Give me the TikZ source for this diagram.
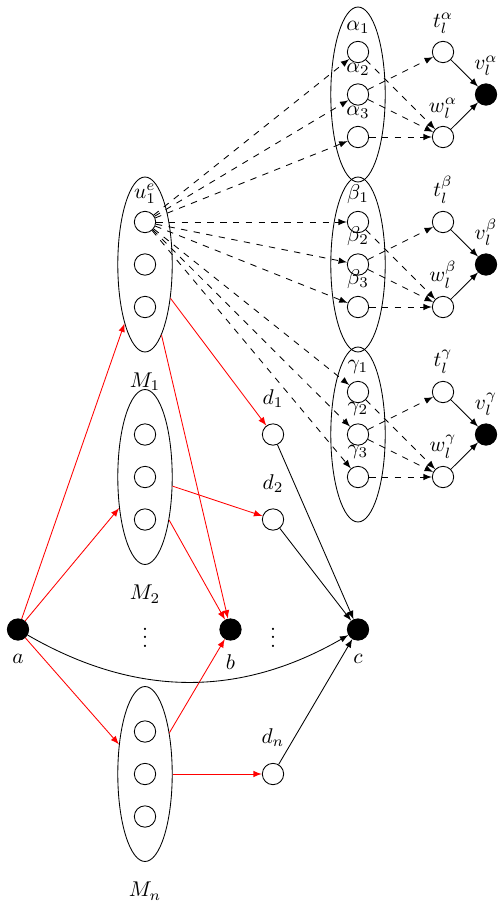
\documentclass[tikz,border=0pt]{standalone}
\usetikzlibrary{shapes.geometric,arrows}
\begin{document}
\begin{tikzpicture}[x=0.4686pt,y=0.4686pt,
  sm/.style={circle,draw,minimum size=10pt,inner sep=0pt},
  fl/.style={circle,draw,fill=black,minimum size=10pt,inner sep=0pt},
  grp/.style={ellipse,draw,minimum width=25.5pt,minimum height=82pt,inner sep=0pt},
  rarr/.style={red,-latex},
  darr/.style={dashed,-latex},
  barr/.style={-latex}]
\useasboundingbox (0,0) rectangle (504,-910);
% alpha group
\node[grp] (GA) at (358,-94.5) {};
\node[sm,label=above:$\alpha_1$] (A1) at (358,-52) {};
\node[sm,label=above:$\alpha_2$] (A2) at (358,-94.5) {};
\node[sm,label=above:$\alpha_3$] (A3) at (358,-137) {};
\node[sm,label=above:$t_l^\alpha$] (tA) at (443,-52) {};
\node[sm,label=above:$w_l^\alpha$] (wA) at (443,-137) {};
\node[fl,label=above:$v_l^\alpha$] (vA) at (486,-94.5) {};
% beta group
\node[grp] (GB) at (358,-264.5) {};
\node[sm,label=above:$\beta_1$] (B1) at (358,-222) {};
\node[sm,label=above:$\beta_2$] (B2) at (358,-264.5) {};
\node[sm,label=above:$\beta_3$] (B3) at (358,-307) {};
\node[sm,label=above:$t_l^\beta$] (tB) at (443,-222) {};
\node[sm,label=above:$w_l^\beta$] (wB) at (443,-307) {};
\node[fl,label=above:$v_l^\beta$] (vB) at (486,-264.5) {};
% gamma group
\node[grp] (GC) at (358,-434.5) {};
\node[sm,label=above:$\gamma_1$] (C1) at (358,-392) {};
\node[sm,label=above:$\gamma_2$] (C2) at (358,-434.5) {};
\node[sm,label=above:$\gamma_3$] (C3) at (358,-477) {};
\node[sm,label=above:$t_l^\gamma$] (tC) at (443,-392) {};
\node[sm,label=above:$w_l^\gamma$] (wC) at (443,-477) {};
\node[fl,label=above:$v_l^\gamma$] (vC) at (486,-434.5) {};
% M groups
\node[grp,label={[label distance=6pt]below:$M_1$}] (M1) at (145,-264.5) {};
\node[sm,label=above:$u_1^e$] (u1) at (145,-222) {};
\node[sm] (m12) at (145,-264.5) {};
\node[sm] (m13) at (145,-307) {};
\node[grp,label={[label distance=6pt]below:$M_2$}] (M2) at (145,-477) {};
\node[sm] (m21) at (145,-434.5) {};
\node[sm] (m22) at (145,-477) {};
\node[sm] (m23) at (145,-519.5) {};
\node[grp,label={[label distance=6pt]below:$M_n$}] (Mn) at (145,-774) {};
\node[sm] (mn1) at (145,-731.5) {};
\node[sm] (mn2) at (145,-774) {};
\node[sm] (mn3) at (145,-816.5) {};
% d nodes
\node[sm,label={[label distance=4pt]above:$d_1$}] (d1) at (273,-434.5) {};
\node[sm,label={[label distance=4pt]above:$d_2$}] (d2) at (273,-519.5) {};
\node[sm,label={[label distance=4pt]above:$d_n$}] (dn) at (273,-774) {};
% a b c
\node[fl,label={[label distance=3pt]below:$a$}] (a) at (18,-629.5) {};
\node[fl,label={[label distance=3pt]below:$b$}] (b) at (230.5,-629.5) {};
\node[fl,label={[label distance=3pt]below:$c$}] (c) at (358,-629.5) {};
\node (dots1) at (145,-631) {$\vdots$};
\node (dots2) at (273,-631) {$\vdots$};
% red edges
\draw[rarr] (a) -- (M1);
\draw[rarr] (a) -- (M2);
\draw[rarr] (a) -- (Mn);
\draw[rarr] (M1) -- (d1);
\draw[rarr] (M1) -- (b);
\draw[rarr] (M2) -- (d2);
\draw[rarr] (M2) -- (b);
\draw[rarr] (Mn) -- (b);
\draw[rarr] (Mn) -- (dn);
% black edges
\draw[barr] (d1) -- (c);
\draw[barr] (d2) -- (c);
\draw[barr] (dn) -- (c);
\draw[barr] (a) to[bend right=30] (c);
% dashed from u1
\foreach \t in {A1,A2,A3,B1,B2,B3,C1,C2,C3}
  \draw[darr] (u1) -- (\t);
% within groups
\foreach \g in {A,B,C}{
  \draw[darr] (\g1) -- (w\g);
  \draw[darr] (\g2) -- (t\g);
  \draw[darr] (\g2) -- (w\g);
  \draw[darr] (\g3) -- (w\g);
  \draw[barr] (t\g) -- (v\g);
  \draw[barr] (w\g) -- (v\g);
}
\end{tikzpicture}
\end{document}
